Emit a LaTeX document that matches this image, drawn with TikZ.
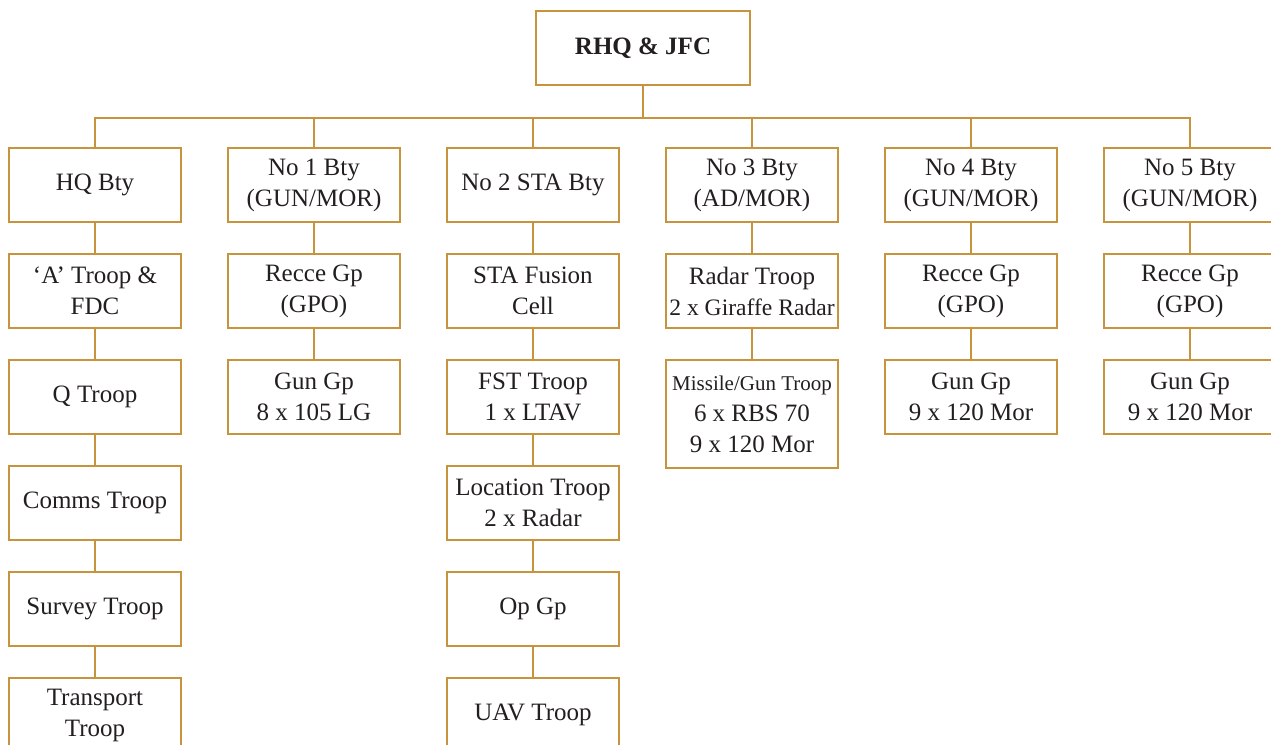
\documentclass[tikz,border=0pt]{standalone}
\usepackage{fontspec}
\setmainfont{Liberation Serif}
\usepackage{tikz}
\usetikzlibrary{positioning,calc}
\usepackage{xcolor}
\definecolor{orggold}{RGB}{198,148,60}
\definecolor{orgtext}{RGB}{35,31,32}

\begin{document}
\begin{tikzpicture}[
      node distance=15pt and 22.5pt,
      every node/.style={font=\fontsize{12.5}{15.5}\selectfont, text=orgtext},
      unit/.style={rectangle, draw=orggold, line width=1pt, fill=white,
                   minimum width=86pt, minimum height=37pt, inner sep=1pt,
                   align=center},
      hq/.style={unit, minimum width=107pt,
                 font=\fontsize{12.5}{15.5}\selectfont\bfseries},
      link/.style={draw=orggold, line width=1pt},
    ]
    \useasboundingbox (0,0) rectangle (635.5pt,-372.5pt);
    \clip (0,0) rectangle (635.5pt,-372.5pt);

    % Regiment HQ
    \node[hq] (root) at (321.5pt,-24pt) {RHQ \& JFC};

    % Batteries
    \node[unit] (hqbty) at (47.5pt,-92.5pt) {HQ Bty};
    \node[unit, right=of hqbty] (bty1) {No 1 Bty\\(GUN/MOR)};
    \node[unit, right=of bty1]  (bty2) {No 2 STA Bty};
    \node[unit, right=of bty2]  (bty3) {No 3 Bty\\(AD/MOR)};
    \node[unit, right=of bty3]  (bty4) {No 4 Bty\\(GUN/MOR)};
    \node[unit, right=of bty4]  (bty5) {No 5 Bty\\(GUN/MOR)};

    % HQ Bty troops
    \node[unit, below=of hqbty]  (atroop)    {`A' Troop \&\\FDC};
    \node[unit, below=of atroop] (qtroop)    {Q Troop};
    \node[unit, below=of qtroop] (comms)     {Comms Troop};
    \node[unit, below=of comms]  (survey)    {Survey Troop};
    \node[unit, below=of survey] (transport) {Transport\\Troop};

    % No 1 Bty
    \node[unit, below=of bty1]   (recce1) {Recce Gp\\(GPO)};
    \node[unit, below=of recce1] (gun1)   {Gun Gp\\8 x 105 LG};

    % No 2 STA Bty
    \node[unit, below=of bty2]     (fusion)   {STA Fusion\\Cell};
    \node[unit, below=of fusion]   (fst)      {FST Troop\\1 x LTAV};
    \node[unit, below=of fst]      (location) {Location Troop\\2 x Radar};
    \node[unit, below=of location] (opgp)     {Op Gp};
    \node[unit, below=of opgp]     (uav)      {UAV Troop};

    % No 3 Bty
    \node[unit, below=of bty3, inner sep=0pt] (radar)
         {Radar Troop\\{\fontsize{11.8}{15.5}\selectfont 2 x Giraffe Radar}};
    \node[unit, below=of radar, minimum height=54pt] (missile)
         {{\fontsize{10.5}{15.5}\selectfont Missile/Gun Troop}\\6 x RBS 70\\9 x 120 Mor};

    % No 4 Bty
    \node[unit, below=of bty4]   (recce4) {Recce Gp\\(GPO)};
    \node[unit, below=of recce4] (gun4)   {Gun Gp\\9 x 120 Mor};

    % No 5 Bty
    \node[unit, below=of bty5]   (recce5) {Recce Gp\\(GPO)};
    \node[unit, below=of recce5] (gun5)   {Gun Gp\\9 x 120 Mor};

    % Bus line root -> batteries
    \coordinate (bus) at (0,-59pt);
    \draw[link] (root.south) -- (root.south |- bus);
    \draw[link] (hqbty.north) |- (bus -| bty5.north) -- (bty5.north);
    \draw[link] (bty1.north) -- (bty1.north |- bus);
    \draw[link] (bty2.north) -- (bty2.north |- bus);
    \draw[link] (bty3.north) -- (bty3.north |- bus);
    \draw[link] (bty4.north) -- (bty4.north |- bus);

    % HQ Bty chain
    \draw[link] (hqbty.south)  -- (atroop.north);
    \draw[link] (atroop.south) -- (qtroop.north);
    \draw[link] (qtroop.south) -- (comms.north);
    \draw[link] (comms.south)  -- (survey.north);
    \draw[link] (survey.south) -- (transport.north);

    % No 1 Bty chain
    \draw[link] (bty1.south)   -- (recce1.north);
    \draw[link] (recce1.south) -- (gun1.north);

    % No 2 STA Bty chain
    \draw[link] (bty2.south)     -- (fusion.north);
    \draw[link] (fusion.south)   -- (fst.north);
    \draw[link] (fst.south)      -- (location.north);
    \draw[link] (location.south) -- (opgp.north);
    \draw[link] (opgp.south)     -- (uav.north);

    % No 3 Bty chain
    \draw[link] (bty3.south)  -- (radar.north);
    \draw[link] (radar.south) -- (missile.north);

    % No 4 and No 5 Bty chains
    \draw[link] (bty4.south)   -- (recce4.north);
    \draw[link] (recce4.south) -- (gun4.north);
    \draw[link] (bty5.south)   -- (recce5.north);
    \draw[link] (recce5.south) -- (gun5.north);
  \end{tikzpicture}
\end{document}
